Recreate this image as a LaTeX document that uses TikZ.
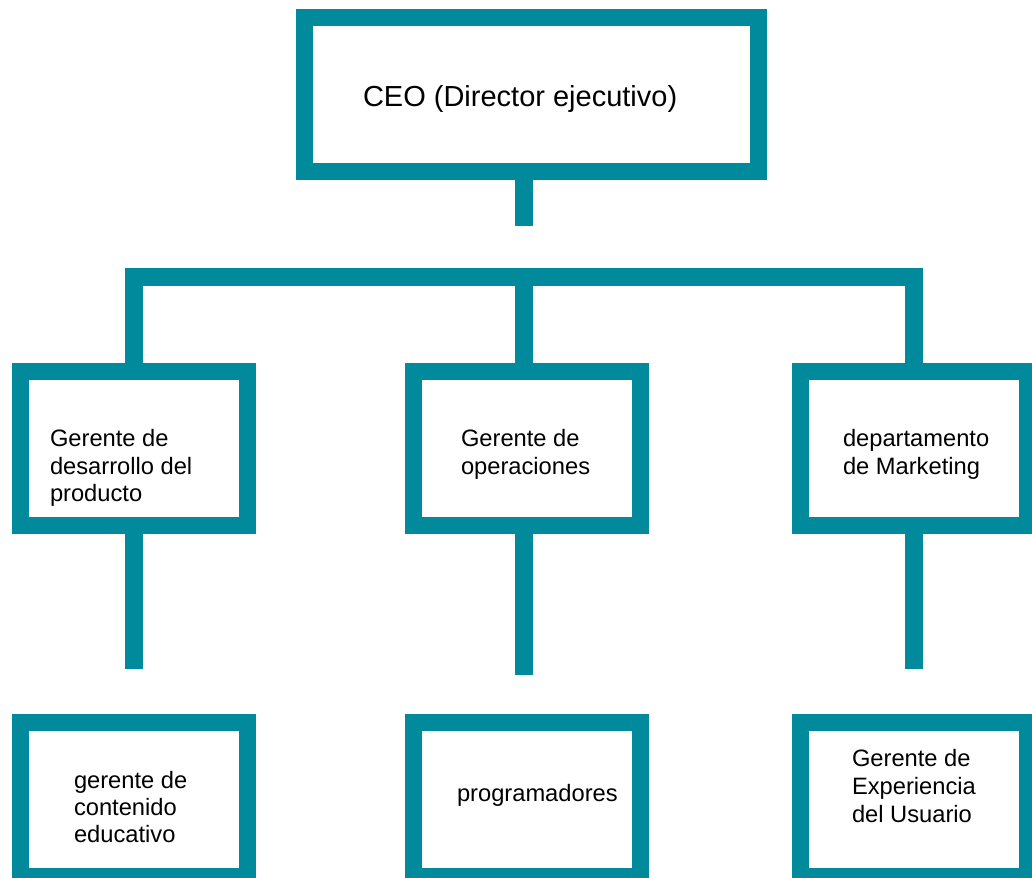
\documentclass[tikz,border=0pt]{standalone}
\usepackage{fontspec}
\setmainfont{Liberation Sans}
\definecolor{teal1}{RGB}{0,138,155}
\begin{document}
\begin{tikzpicture}[x=1pt,y=-1pt,
  orgbox/.style={draw=teal1,line width=17pt,rectangle,minimum width=227pt,minimum height=154pt,inner sep=0pt,outer sep=0pt,fill=white},
  conn/.style={draw=teal1,line width=18pt,line cap=butt,line join=miter},
  lbl/.style={anchor=base west,inner sep=0pt,outer sep=0pt,align=left,font=\fontsize{23.7}{27.5}\selectfont,text=black}]
\useasboundingbox[clip] (0,0) rectangle (1032,877);
% boxes
\node[orgbox,minimum width=454pt] (ceo) at (531.5,95) {};
\node[orgbox] (l1) at (134,448.5) {};
\node[orgbox] (m1) at (527,448.5) {};
\node[orgbox] (r1) at (914,448.5) {};
\node[orgbox] (l2) at (134,799) {};
\node[orgbox] (m2) at (527,799) {};
\node[orgbox] (r2) at (914,799) {};
% connector ends
\coordinate (cs) at (524,226);
\coordinate (bar) at (524,277);
\coordinate (sL) at (134,669);
\coordinate (sM) at (524,675);
\coordinate (sR) at (914,669);
% connectors
\draw[conn] (cs |- ceo.south) -- (cs);
\draw[conn] (l1.north) |- (bar) -| (r1.north);
\draw[conn] (bar) -- (bar |- m1.north);
\draw[conn] (l1.south) -- (sL);
\draw[conn] (sM |- m1.south) -- (sM);
\draw[conn] (r1.south) -- (sR);
% texts (anchor = baseline of the last line)
\node[lbl,font=\fontsize{29}{34}\selectfont] (tceo) at (363,106.7) {CEO (Director ejecutivo)};
\node[lbl] (tl1) at (50,501.7) {Gerente de\\desarrollo del\\producto};
\node[lbl] (tm1) at (461,474) {Gerente de\\operaciones};
\node[lbl] (tr1) at (843,474) {departamento\\de Marketing};
\node[lbl,font=\fontsize{23.7}{27.2}\selectfont] (tl2) at (74,842.7) {gerente de\\contenido\\educativo};
\node[lbl] (tm2) at (457,801.7) {programadores};
\node[lbl,font=\fontsize{23.7}{28}\selectfont] (tr2) at (852,822.7) {Gerente de\\Experiencia\\del Usuario};
\end{tikzpicture}
\end{document}
